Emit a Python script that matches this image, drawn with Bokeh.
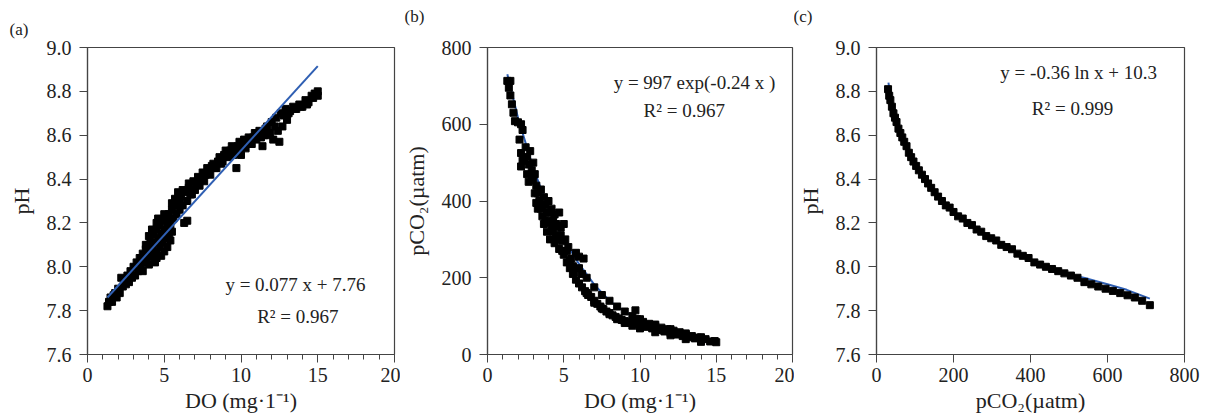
from bokeh.plotting import figure
from bokeh.layouts import row
from bokeh.models import Range1d, FixedTicker, Label
from bokeh.embed import file_html
from bokeh.resources import INLINE

# ---------------- data ----------------
# Panel (a): DO vs pH
a_do = [1.3, 1.4, 1.5, 1.6, 1.7, 1.8, 1.9, 2.0, 2.1, 2.2, 2.3, 2.4, 2.5, 2.6, 2.7, 2.8, 2.9, 3.0, 3.1, 3.2,
        3.3, 3.4, 3.5, 3.6, 3.7, 3.8, 3.9, 4.0, 4.0, 4.1, 4.2, 4.3, 4.3, 4.4, 4.5, 4.5, 4.6, 4.7, 4.7, 4.8,
        4.9, 4.9, 5.0, 5.1, 5.1, 5.2, 5.3, 5.3, 5.4, 5.5, 5.6, 5.7, 5.8, 5.9, 6.0, 6.1, 6.2, 6.3, 6.4, 6.5,
        6.5, 6.6, 6.8, 6.9, 7.0, 7.2, 7.3, 7.5, 7.6, 7.8, 8.0, 8.2, 8.4, 8.6, 8.8, 9.0, 9.2, 9.4, 9.5, 9.7,
        9.7, 9.9, 10.0, 10.2, 10.3, 10.5, 10.7, 10.9, 11.0, 11.2, 11.4, 11.5, 11.7, 11.9, 12.0, 12.1, 12.3,
        12.4, 12.5, 12.6, 12.7, 12.9, 13.0, 13.2, 13.4, 13.6, 13.8, 14.0, 14.2, 14.4, 14.6, 14.8, 15.0, 15.0,
        3.5, 4.2, 4.8, 5.4, 6.0, 6.7, 7.1, 7.4, 7.7, 7.9, 8.1, 8.3, 8.5, 8.7, 8.9, 9.1, 9.3, 9.6, 9.8, 10.1,
        10.4, 10.6, 10.8, 11.1, 11.3, 11.6, 11.8, 12.2, 12.8, 13.1, 13.5, 13.9, 14.3, 14.7,
        3.6, 3.8, 4.0, 4.0, 4.2, 4.4, 4.5, 4.5, 4.6, 4.8, 5.0, 5.0, 5.2, 5.4, 5.5, 5.5, 5.7, 5.9, 6.2, 6.6]
a_ph = [7.82, 7.84, 7.86, 7.84, 7.87, 7.88, 7.86, 7.90, 7.88, 7.95, 7.91, 7.94, 7.92, 7.96, 7.93, 7.98, 7.95, 8.00, 7.96, 8.02,
        7.98, 8.04, 8.00, 8.06, 8.02, 8.08, 8.04, 8.10, 8.06, 8.13, 8.08, 8.15, 8.05, 8.11, 8.17, 8.07, 8.13, 8.19, 8.09, 8.15,
        8.21, 8.11, 8.17, 8.22, 8.13, 8.19, 8.24, 8.15, 8.21, 8.26, 8.22, 8.28, 8.24, 8.30, 8.26, 8.32, 8.28, 8.20, 8.34, 8.21,
        8.30, 8.36, 8.33, 8.39, 8.35, 8.41, 8.37, 8.43, 8.39, 8.45, 8.42, 8.47, 8.45, 8.50, 8.48, 8.53, 8.50, 8.55, 8.51, 8.45,
        8.54, 8.57, 8.51, 8.58, 8.54, 8.59, 8.56, 8.61, 8.58, 8.62, 8.55, 8.60, 8.64, 8.61, 8.66, 8.58, 8.68,
        8.62, 8.57, 8.70, 8.64, 8.72, 8.67, 8.71, 8.73, 8.72, 8.74, 8.73, 8.76, 8.75, 8.78, 8.79, 8.80, 8.78,
        8.03, 8.10, 8.12, 8.18, 8.29, 8.33, 8.38, 8.40, 8.42, 8.43, 8.46, 8.45, 8.48, 8.47, 8.51, 8.52, 8.53, 8.53, 8.55, 8.56,
        8.57, 8.58, 8.59, 8.60, 8.59, 8.63, 8.60, 8.64, 8.69, 8.70, 8.72, 8.73, 8.74, 8.77,
        7.98, 8.10, 8.01, 8.14, 8.17, 8.02, 8.04, 8.20, 8.22, 8.05, 8.07, 8.24, 8.09, 8.12, 8.29, 8.16, 8.31, 8.34, 8.35, 8.38]
a_fit_do = [1.3, 15.0]
a_fit_ph = [7.86, 8.915]

# Panel (b): DO vs pCO2
b_do = [1.3, 1.5, 1.4, 1.5, 1.6, 1.7, 1.8, 2.0, 2.2, 2.3, 2.1, 2.2, 2.3, 2.2, 2.5, 2.6, 2.7, 2.6, 2.8, 2.9,
        3.0, 3.0, 3.1, 3.2, 3.3, 3.2, 3.4, 3.5, 3.5, 3.6, 3.7, 3.7, 3.8, 3.9, 3.9, 4.0, 4.1, 4.1, 4.2, 4.3,
        4.4, 4.4, 4.5, 4.6, 4.7, 4.7, 4.8, 4.9, 5.0, 5.0, 5.1, 5.2, 5.3, 5.4, 5.5, 5.6, 5.8, 6.0, 6.3, 5.8,
        6.0, 6.2, 6.4, 6.6, 6.8, 7.0, 7.2, 7.4, 7.6, 7.8, 8.0, 8.2, 8.4, 8.6, 8.8, 9.0, 9.2, 9.4, 9.7, 9.6,
        9.8, 10.0, 10.2, 10.4, 10.6, 10.8, 11.0, 11.2, 11.4, 11.6, 11.8, 12.0, 12.2, 12.4, 12.6, 12.8, 13.0,
        13.2, 13.4, 13.6, 13.8, 14.0, 14.3, 14.6, 14.9, 15.0,
        6.0, 6.2, 6.5, 7.0, 7.5, 8.0, 8.5, 9.0, 9.5, 10.0, 11.0, 12.0, 13.0, 14.0,
        6.5, 7.0, 7.5, 8.0, 8.5, 9.0, 9.5, 10.0, 11.0, 12.0, 13.0, 14.0,
        2.4, 2.7, 2.9, 3.1, 3.3, 3.6, 3.8, 4.0, 4.2, 4.3, 4.5, 4.6, 4.8, 4.9, 5.2, 5.4, 5.6, 5.7]
b_pco2 = [713, 713, 695, 675, 652, 630, 608, 605, 600, 585, 560, 525, 505, 490, 540, 515, 495, 470, 530, 480,
          500, 455, 470, 440, 420, 395, 400, 380, 430, 360, 410, 340, 390, 320, 370, 400, 345, 300, 380, 320,
          290, 365, 340, 300, 370, 275, 330, 295, 260, 340, 300, 240, 280, 225, 250, 210, 265, 255, 250, 195,
          185, 175, 165, 155, 150, 140, 132, 125, 118, 112, 108, 102, 98, 94, 90, 87, 85, 82, 115, 80,
          92, 76, 85, 72, 80, 68, 74, 64, 70, 60, 66, 56, 62, 52, 58, 48, 52,
          45, 48, 42, 44, 38, 40, 34, 35, 32,
          225, 210, 200, 175, 155, 140, 125, 112, 100, 92, 78, 66, 55, 45,
          160, 135, 120, 105, 92, 82, 75, 68, 58, 50, 40, 33,
          510, 450, 460, 420, 380, 390, 350, 370, 330, 350, 310, 335, 310, 270, 270, 245, 230, 215]
b_fit_do = [1.3, 2, 3, 4, 5, 6, 7, 8, 9, 10, 11, 12, 13, 14, 15]
b_fit_pco2 = [730, 617, 485, 381, 300, 236, 182, 140, 112, 90, 71, 56, 44, 35, 27]

# Panel (c): pCO2 vs pH
c_pco2 = [30, 33, 36, 40, 44, 48, 52, 57, 62, 67, 72, 78, 84, 90, 96, 103, 110, 118, 126, 134,
          142, 151, 160, 170, 180, 190, 200, 212, 224, 236, 248, 260, 272, 285, 298, 311, 324, 338, 352, 366,
          380, 395, 410, 425, 440, 456, 472, 488, 505, 522, 540, 558, 576, 595, 614, 633, 652, 671, 690, 710]
c_ph = [8.81, 8.78, 8.76, 8.73, 8.70, 8.68, 8.66, 8.63, 8.61, 8.59, 8.57, 8.55, 8.52, 8.50, 8.48, 8.46, 8.44, 8.42, 8.40, 8.38,
        8.36, 8.34, 8.32, 8.30, 8.28, 8.27, 8.25, 8.23, 8.22, 8.20, 8.19, 8.17, 8.16, 8.14, 8.13, 8.12, 8.10, 8.09, 8.08, 8.06,
        8.05, 8.04, 8.02, 8.01, 8.00, 7.99, 7.98, 7.97, 7.96, 7.95, 7.93, 7.92, 7.91, 7.90, 7.89, 7.88, 7.87, 7.86, 7.845, 7.825]
c_fit_pco2 = [31, 40, 50, 65, 80, 100, 120, 150, 180, 220, 260, 300, 350, 400, 450, 500, 550, 600, 650, 710]
c_fit_ph = [8.84, 8.74, 8.67, 8.58, 8.54, 8.47, 8.415, 8.34, 8.28, 8.225, 8.17, 8.13, 8.08, 8.035, 7.995, 7.965, 7.945, 7.92, 7.895, 7.855]

# ticks
do_ticks = [0, 5, 10, 15, 20]
do_minor = [1, 2, 3, 4, 6, 7, 8, 9, 11, 12, 13, 14, 16, 17, 18, 19]
ph_ticks = [7.6, 7.8, 8.0, 8.2, 8.4, 8.6, 8.8, 9.0]
ph_labels = ["7.6", "7.8", "8.0", "8.2", "8.4", "8.6", "8.8", "9.0"]
pco2_ticks = [0, 200, 400, 600, 800]

SERIF = "Liberation Serif"
AX = "#444444"
TXT = "#222222"
BLUE = "#2f5fb3"
H = 419
TOP = 47
BOTTOM = 65


def make_fig(w, bl, br, xr, yr, xt, xminor, yt, ylabels, xlab, ylab, tag, tag_offset, tag_standoff):
    p = figure(width=w, height=H, output_backend="svg", toolbar_location=None,
               x_range=Range1d(*xr), y_range=Range1d(*yr),
               min_border_left=bl, min_border_right=br, min_border_top=TOP, min_border_bottom=BOTTOM)
    p.title.text = tag
    p.title.align = "left"
    p.title.offset = tag_offset
    p.title.standoff = tag_standoff
    p.title.text_font = SERIF
    p.title.text_font_size = "17px"
    p.title.text_font_style = "normal"
    p.title.text_color = TXT
    p.xgrid.visible = False
    p.ygrid.visible = False
    p.outline_line_color = AX
    p.outline_line_width = 1.2
    p.xaxis.ticker = FixedTicker(ticks=xt, minor_ticks=xminor)
    p.yaxis.ticker = FixedTicker(ticks=yt, minor_ticks=[])
    if ylabels is not None:
        p.yaxis.major_label_overrides = {t: s for t, s in zip(yt, ylabels)}
    for ax in (p.xaxis[0], p.yaxis[0]):
        ax.axis_line_color = AX
        ax.axis_line_width = 1.2
        ax.major_tick_line_color = AX
        ax.minor_tick_line_color = AX
        ax.major_tick_out = 8
        ax.major_tick_in = 0
        ax.minor_tick_out = 5
        ax.minor_tick_in = 0
        ax.major_label_text_font = SERIF
        ax.major_label_text_font_size = "20px"
        ax.major_label_text_color = TXT
        ax.axis_label_text_font = SERIF
        ax.axis_label_text_font_size = "22px"
        ax.axis_label_text_font_style = "normal"
        ax.axis_label_text_color = TXT
    p.xaxis.major_label_standoff = 5
    p.yaxis.major_label_standoff = 8
    p.xaxis.axis_label_standoff = 3
    p.yaxis.axis_label_standoff = 10
    p.xaxis.axis_label = xlab
    p.yaxis.axis_label = ylab
    return p


def add_text(p, x, y, s, size="19px"):
    p.add_layout(Label(x=x, y=y, text=s, text_font=SERIF, text_font_size=size, text_color=TXT,
                       text_align="center", text_baseline="middle"))


# (a)
pa = make_fig(400, 87, 6, (0, 20), (7.6, 9.0), do_ticks, do_minor, ph_ticks, ph_labels,
              "DO (mg·1⁻¹)", "pH", "(a)", -78, 18)
pa.scatter(a_do, a_ph, marker="square", size=7, color="black")
pa.line(a_fit_do, a_fit_ph, line_color=BLUE, line_width=2)
add_text(pa, 13.55, 7.92, "y = 0.077 x + 7.76")
add_text(pa, 13.7, 7.775, "R² = 0.967")

# (b)
pb = make_fig(394, 85, 2, (0, 20), (0, 800), do_ticks, do_minor, pco2_ticks, None,
              "DO (mg·1⁻¹)", "pCO₂(µatm)", "(b)\n", -83, 6)
pb.line(b_fit_do, b_fit_pco2, line_color=BLUE, line_width=2)
pb.scatter(b_do, b_pco2, marker="square", size=7, color="black")
add_text(pb, 13.57, 708, "y = 997 exp(-0.24 x )")
add_text(pb, 12.9, 635, "R² = 0.967")

# (c)
pc = make_fig(416, 82, 26, (0, 800), (7.6, 9.0), pco2_ticks, [], ph_ticks, ph_labels,
              "pCO₂(µatm)", "pH", "(c)\n", -83, 6)
pc.line(c_fit_pco2, c_fit_ph, line_color=BLUE, line_width=2)
pc.scatter(c_pco2, c_ph, marker="square", size=7, color="black")
add_text(pc, 525, 8.885, "y = -0.36 ln x + 10.3")
add_text(pc, 509, 8.72, "R² = 0.999")

layout = row(pa, pb, pc)
open("out.html", "w").write(file_html(layout, INLINE))
